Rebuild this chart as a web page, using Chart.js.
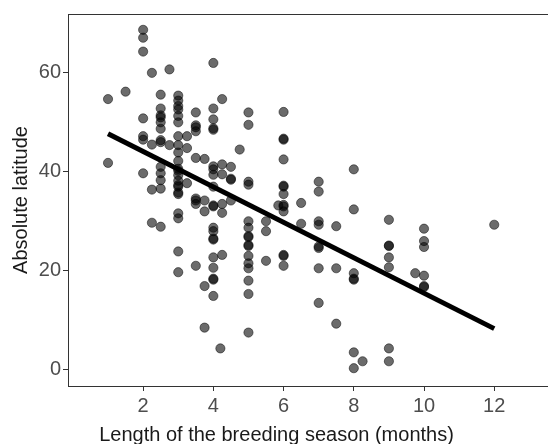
<!DOCTYPE html>
<html>
<head>
<meta charset="utf-8">
<title>Breeding season vs latitude</title>
<script src="https://cdn.jsdelivr.net/npm/chart.js@4.4.1/dist/chart.umd.min.js"></script>
<style>
  html, body { margin: 0; padding: 0; background: #fff; }
  #scatter { display: block; }
</style>
</head>
<body>
<canvas id="scatter" width="553" height="444"></canvas>
<script>
// breeding season length (months) -> absolute latitudes observed at that length
const seasonMonths = [1, 1.5, 2, 2.25, 2.5, 2.75, 3, 3.25, 3.5, 3.75, 4, 4.2, 4.25, 4.5, 4.75,
                      5, 5.5, 5.85, 6, 6.5, 7, 7.5, 8, 8.25, 9, 9.75, 10, 12];
const latitudeByMonth = [
  [54.7, 41.8],
  [56.2],
  [68.7, 67.1, 64.3, 50.8, 47.2, 46.5, 39.7],
  [60, 45.5, 36.4, 29.7],
  [55.6, 52.8, 51.4, 51, 50, 48.7, 46.4, 46, 41, 39.7, 38.3, 36.6, 28.9],
  [60.7, 45.4],
  [55.4, 54.4, 53.3, 52.6, 51.3, 50, 47.2, 45.4, 43.9, 42.2, 40.6, 40.2, 39.3, 38.2,
   37.3, 37, 35.8, 35.5, 31.6, 30.6, 23.9, 19.7],
  [47.2, 44.8, 37.7],
  [52, 49.4, 49, 48.2, 42.8, 34.6, 34.2, 33.5, 21],
  [42.6, 34.2, 32, 16.9, 8.5],
  [62, 52.8, 50.6, 48.8, 48.5, 41.1, 40.5, 39.4, 37, 33.2, 33, 28.7, 28, 26.5, 26.3,
   22.7, 20.6, 18.2, 18.4, 14.9],
  [4.3],
  [54.7, 41.5, 39.5, 33.5, 31.7, 23.2],
  [41, 38.6, 38.4, 34.2],
  [44.5],
  [52, 49.5, 38, 37.4, 30, 28.7, 27, 26.8, 25.2, 25, 23, 21.5, 20.5, 18, 15.3, 7.5],
  [30, 28, 22],
  [33.2],
  [52.1, 46.7, 46.5, 42.5, 37.2, 37, 35.5, 33.3, 33, 32, 23.2, 23, 21],
  [33.7, 29.5],
  [38, 36, 30, 29.3, 24.9, 24.6, 20.5, 13.5],
  [29, 20.5, 9.3],
  [40.5, 32.4, 19.5, 18.4, 18.2, 3.5, 0.3],
  [1.7],
  [30.3, 25.1, 25, 22.7, 20.7, 4.3, 1.7],
  [19.5],
  [28.5, 26, 24.8, 19, 16.9, 16.7],
  [29.3]
];

// fitted linear trend, end points
const fitMonths = [1, 12];
const fitLatitude = [47.7, 8.3];

const xTicks = [2, 4, 6, 8, 10, 12];
const yTicks = [0, 20, 40, 60];

const FONT = 'Liberation Sans, Arial, Helvetica, sans-serif';
const AXIS_COLOR = '#333333';
const TICK_TEXT = '#4d4d4d';

const points = [];
seasonMonths.forEach((m, i) => {
  latitudeByMonth[i].forEach(lat => points.push({ x: m, y: lat }));
});

const fitLine = fitMonths.map((m, i) => ({ x: m, y: fitLatitude[i] }));

const ctx = document.getElementById('scatter').getContext('2d');
new Chart(ctx, {
  type: 'scatter',
  data: {
    datasets: [
      {
        label: 'trend',
        data: fitLine,
        showLine: true,
        borderColor: '#000',
        borderWidth: 5,
        pointRadius: 0,
        order: 0
      },
      {
        label: 'populations',
        data: points,
        backgroundColor: 'rgba(0, 0, 0, 0.58)',
        borderColor: 'rgba(0, 0, 0, 0.62)',
        borderWidth: 0.8,
        pointRadius: 4.6,
        order: 1
      }
    ]
  },
  options: {
    responsive: false,
    animation: false,
    devicePixelRatio: 1,
    layout: { padding: { top: 10, left: 0, right: 0, bottom: 0 } },
    plugins: {
      legend: { display: false },
      tooltip: { enabled: false },
      title: {
        display: true,
        position: 'bottom',
        text: 'Length of the breeding season (months)',
        color: '#1a1a1a',
        font: { family: FONT, size: 20, weight: 'normal', lineHeight: 0.9 },
        padding: { top: 0, bottom: 0 }
      }
    },
    scales: {
      x: {
        type: 'linear',
        position: 'bottom',
        min: -0.14,
        max: 13.52,
        afterBuildTicks: scale => { scale.ticks = xTicks.map(v => ({ value: v })); },
        afterFit: scale => { scale.height = 40; },
        ticks: {
          color: TICK_TEXT,
          font: { family: FONT, size: 20 },
          padding: 3,
          maxRotation: 0,
          autoSkip: false
        },
        grid: { drawOnChartArea: false, tickLength: 5, color: AXIS_COLOR, lineWidth: 1 },
        border: { color: AXIS_COLOR, width: 1 }
      },
      top: {
        type: 'linear',
        position: 'top',
        min: -0.14,
        max: 13.52,
        afterFit: scale => { scale.height = 0; },
        ticks: { display: false },
        grid: { display: false },
        border: { color: AXIS_COLOR, width: 1 }
      },
      y: {
        type: 'linear',
        min: -3.3,
        max: 71.9,
        afterBuildTicks: scale => { scale.ticks = yTicks.map(v => ({ value: v })); },
        afterFit: scale => { scale.width = 68; },
        ticks: {
          color: TICK_TEXT,
          font: { family: FONT, size: 20 },
          padding: 2
        },
        grid: { drawOnChartArea: false, tickLength: 5, color: AXIS_COLOR, lineWidth: 1 },
        border: { color: AXIS_COLOR, width: 1 },
        title: {
          display: true,
          text: 'Absolute latitude',
          color: '#1a1a1a',
          font: { family: FONT, size: 20, weight: 'normal' },
          padding: { top: 9, bottom: 0 }
        }
      }
    }
  }
});
</script>
</body>
</html>
